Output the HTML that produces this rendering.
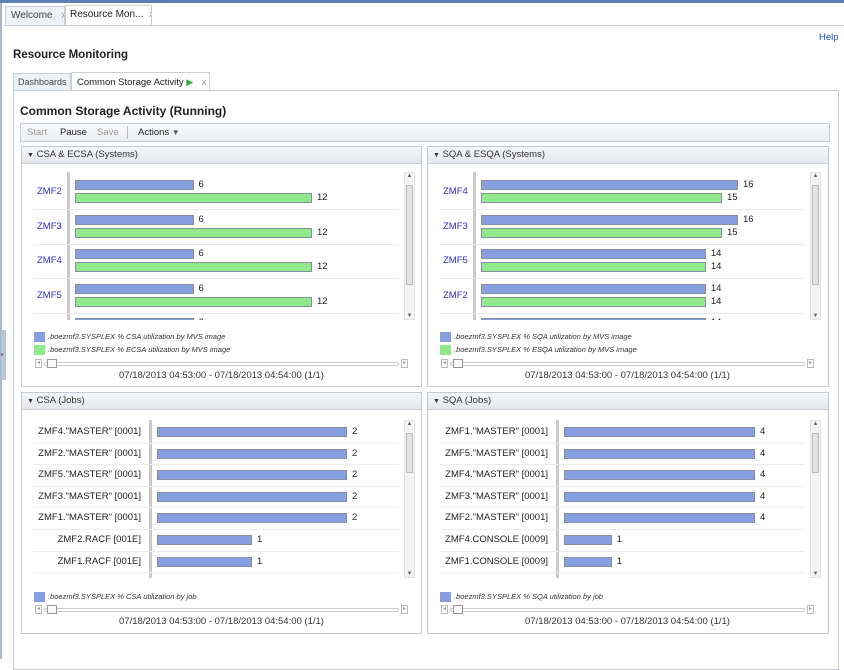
<!DOCTYPE html>
<html><head><meta charset="utf-8"><style>
*{box-sizing:border-box;margin:0;padding:0}
body{width:844px;height:659px;position:relative;overflow:hidden;background:#fff;font-family:"Liberation Sans",sans-serif;color:#222}
.a{position:absolute}
.tab{position:absolute;height:20px;border:1px solid #c8ced8;border-bottom:none;background:#eef1f5;font-size:10px;line-height:18px;padding-left:5px;color:#444;white-space:nowrap;overflow:hidden}
.panel{position:absolute;border:1px solid #c5cbd4;background:#fff}
.ph{position:absolute;left:0;top:0;right:0;height:17px;background:linear-gradient(#f6f7f9,#e4e7ec);border-bottom:1px solid #ccd1d9;font-size:9.5px;line-height:16px;padding-left:5px;color:#333}
.clip{position:absolute;overflow:hidden}
.sb{position:absolute;width:11px;background:#f2f3f5;border:1px solid #e0e2e6}
.leg{position:absolute;font-size:7.5px;font-style:italic;color:#333;line-height:10px;white-space:nowrap}
.sw{display:inline-block;width:11px;height:10px;vertical-align:middle;margin-right:3px}
.slider{position:absolute;height:9px}
.date{position:absolute;font-size:9.5px;color:#333;text-align:center}
</style></head><body>
<div class="a" style="left:0;top:0;width:844px;height:3px;background:#5a7fb3"></div>
<div class="a" style="left:0;top:3px;width:2px;height:656px;background:#a9b6c8"></div>
<div class="a" style="left:1px;top:330px;width:5px;height:50px;background:#b8c6d8;font-size:6px;color:#667;line-height:50px">▸</div>
<div class="tab" style="left:5px;top:6px;width:60px">Welcome <span style="color:#999;margin-left:6px">x</span></div>
<div class="tab" style="left:65px;top:5px;width:87px;height:21px;background:#fff;color:#222;padding-left:4px">Resource Mon... <span style="color:#999;margin-left:3px">x</span></div>
<div class="a" style="left:4px;top:25px;width:840px;height:1px;background:#c8ced8"></div>
<div class="a" style="left:819px;top:32px;font-size:9.5px;color:#1a4fbf">Help</div>
<div class="a" style="left:13px;top:49px;font-size:11.5px;font-weight:bold">Resource Monitoring</div>
<div class="tab" style="left:13px;top:73px;width:58px;height:18px;line-height:17px;font-size:9px;padding-left:4px">Dashboards</div>
<div class="tab" style="left:71px;top:72px;width:139px;height:19px;background:#fff;font-size:9.5px;color:#222">Common Storage Activity <span style="color:#3a3;font-size:9px">▶</span> <span style="color:#999;margin-left:6px">x</span></div>
<div class="a" style="left:13px;top:90px;width:826px;height:580px;border:1px solid #c8ced8"></div>
<div class="a" style="left:20px;top:104px;font-size:12px;font-weight:bold">Common Storage Activity (Running)</div>
<div class="a" style="left:20px;top:123px;width:810px;height:19px;border:1px solid #c8ced8;background:linear-gradient(#f8f9fa,#eceef1);font-size:9.5px;line-height:17px">
<span style="position:absolute;left:6px;color:#999">Start</span>
<span style="position:absolute;left:39px">Pause</span>
<span style="position:absolute;left:76px;color:#999">Save</span>
<span style="position:absolute;left:106px;top:2px;width:1px;height:13px;background:#bbb"></span>
<span style="position:absolute;left:117px">Actions <span style="color:#557;font-size:8px">▼</span></span>
</div>
<div id="root"></div>
<script>
// CSA & ECSA (Systems)
const csaSystems=['ZMF2','ZMF3','ZMF4','ZMF5','ZMF1'];
const csaValues=[6,6,6,6,6];
const ecsaValues=[12,12,12,12,12];
// SQA & ESQA (Systems)
const sqaSystems=['ZMF4','ZMF3','ZMF5','ZMF2','ZMF1'];
const sqaValues=[16,16,14,14,14];
const esqaValues=[15,15,14,14,14];
// CSA (Jobs)
const csaJobs=['ZMF4."MASTER" [0001]','ZMF2."MASTER" [0001]','ZMF5."MASTER" [0001]','ZMF3."MASTER" [0001]','ZMF1."MASTER" [0001]','ZMF2.RACF [001E]','ZMF1.RACF [001E]','ZMF3.RACF [001E]'];
const csaJobValues=[2,2,2,2,2,1,1,1];
// SQA (Jobs)
const sqaJobs=['ZMF1."MASTER" [0001]','ZMF5."MASTER" [0001]','ZMF4."MASTER" [0001]','ZMF3."MASTER" [0001]','ZMF2."MASTER" [0001]','ZMF4.CONSOLE [0009]','ZMF1.CONSOLE [0009]','ZMF2.CONSOLE [0009]'];
const sqaJobValues=[4,4,4,4,4,1,1,1];

const BLUE='#859fe0',GREEN='#90ea8c';
const root=document.getElementById('root');
function mk(parent,cls,style,name,inter){const d=document.createElement('div');if(cls)d.className=cls;d.style.cssText=style;


parent.appendChild(d);return d;}

function panel(x,y,w,h,title,name){
 const p=mk(root,'panel',`left:${x}px;top:${y}px;width:${w}px;height:${h}px`,name,false);
 const hd=mk(p,'ph','',name+'-header',true);hd.innerHTML='<span style="font-size:7px">▼</span> '+title;
 return p;}

function footer(x,y,legends,sliderY,dateY){
 legends.forEach((l,i)=>{const d=mk(root,'leg',`left:${x+13}px;top:${y+i*13}px`,'legend-entry',false);
  d.innerHTML=`<span class="sw" style="background:${l[0]}"></span>${l[1]}`;});
 const s=mk(root,'slider',`left:${x+14}px;top:${sliderY}px;width:373px`,'time-slider',true);
 s.innerHTML=`<div style="position:absolute;left:0;top:0;width:7px;height:9px;border:1px solid #bbb;font-size:6px;color:#999;line-height:7px;text-align:center">◂</div>
 <div style="position:absolute;left:9px;top:3px;width:355px;height:4px;border:1px solid #ccc;border-radius:2px"></div>
 <div style="position:absolute;left:12px;top:0;width:10px;height:9px;border:1px solid #999;background:#fafafa"></div>
 <div style="position:absolute;left:366px;top:0;width:7px;height:9px;border:1px solid #bbb;font-size:6px;color:#999;line-height:7px;text-align:center">▸</div>`;
 const d=mk(root,'date',`left:${x}px;top:${dateY}px;width:401px`,'time-range-label',false);
 d.textContent='07/18/2013 04:53:00 - 07/18/2013 04:54:00 (1/1)';}

function sysChart(px,cats,s1,s2,maxV,maxW){
 const top=172,bottom=320,clipL=px+9,clipR=px+381;
 const c=mk(root,'clip',`left:${clipL}px;top:${top}px;width:${clipR-clipL}px;height:${bottom-top}px`,'bar-chart',false);
 const axisX=px+46-clipL,x0=px+54-clipL,sc=v=>v/maxV*maxW,rowH=34.5,r0=3;
 mk(c,'',`position:absolute;left:${axisX}px;top:0;width:3px;height:148px;background:#c9c9c9`,'y-axis',false);
 cats.forEach((cat,i)=>{const rt=r0+rowH*i;
  const l=mk(c,'',`position:absolute;left:${px+16-clipL}px;top:${rt+11}px;font-size:9.5px;color:#2a2ad0`,'category-label',true);l.textContent=cat;
  [[s1,BLUE,5],[s2,GREEN,18]].forEach(([arr,col,off])=>{const w=sc(arr[i]);
   mk(c,'',`position:absolute;left:${x0}px;top:${rt+off}px;width:${w}px;height:10px;background:${col};border:1px solid #8a8fa0`,'bar',true);
   const t=mk(c,'',`position:absolute;left:${x0+w+5}px;top:${rt+off-1}px;font-size:9.5px`,'value-label',false);t.textContent=arr[i];});
  mk(c,'',`position:absolute;left:3px;top:${rt+34}px;width:${clipR-clipL-6}px;height:1px;background:#e8e8e8`,'row-separator',false);});
 const sb=mk(root,'sb',`left:${px+383}px;top:${top}px;height:${bottom-top}px`,'scrollbar',true);
 sb.innerHTML='<div style="position:absolute;left:1px;top:12px;width:7px;height:100px;background:#e2e2e2;border:1px solid #bbb"></div><div style="position:absolute;top:0;width:9px;text-align:center;font-size:6px;color:#666">▲</div><div style="position:absolute;bottom:0;width:9px;text-align:center;font-size:6px;color:#666">▼</div>';}

function jobChart(px,cats,vals,maxV,maxW,labelRight,axisAt){
 const top=420,bottom=578,clipL=px+9,clipR=px+381;
 const c=mk(root,'clip',`left:${clipL}px;top:${top}px;width:${clipR-clipL}px;height:${bottom-top}px`,'bar-chart',false);
 const x0=axisAt+5-clipL,sc=v=>v/maxV*maxW,rowH=21.6,c0=12;
 mk(c,'',`position:absolute;left:${axisAt-3-clipL}px;top:0;width:3px;height:158px;background:#c9c9c9`,'y-axis',false);
 cats.forEach((cat,i)=>{const cy=c0+rowH*i;
  const l=mk(c,'',`position:absolute;right:${clipR-labelRight}px;top:${cy-6}px;font-size:9.5px;color:#222;white-space:nowrap`,'category-label',false);l.textContent=cat;
  const w=sc(vals[i]);
  mk(c,'',`position:absolute;left:${x0}px;top:${cy-5}px;width:${w}px;height:10px;background:${BLUE};border:1px solid #8a8fa0`,'bar',true);
  const t=mk(c,'',`position:absolute;left:${x0+w+5}px;top:${cy-6}px;font-size:9.5px`,'value-label',false);t.textContent=vals[i];
  mk(c,'',`position:absolute;left:3px;top:${cy+10.5}px;width:${clipR-clipL-6}px;height:1px;background:#ececec`,'row-separator',false);});
 const sb=mk(root,'sb',`left:${px+383}px;top:${top}px;height:${bottom-top}px`,'scrollbar',true);
 sb.innerHTML='<div style="position:absolute;left:1px;top:12px;width:7px;height:40px;background:#e2e2e2;border:1px solid #bbb"></div><div style="position:absolute;top:0;width:9px;text-align:center;font-size:6px;color:#666">▲</div><div style="position:absolute;bottom:0;width:9px;text-align:center;font-size:6px;color:#666">▼</div>';}

panel(21,146,401,241,'CSA &amp; ECSA (Systems)','csa-ecsa-panel');
panel(427,146,402,241,'SQA &amp; ESQA (Systems)','sqa-esqa-panel');
panel(21,392,401,242,'CSA (Jobs)','csa-jobs-panel');
panel(427,392,402,242,'SQA (Jobs)','sqa-jobs-panel');

sysChart(21,csaSystems,csaValues,ecsaValues,12,237);
sysChart(427,sqaSystems,sqaValues,esqaValues,16,257);
jobChart(21,csaJobs,csaJobValues,2,190,141,152);
jobChart(427,sqaJobs,sqaJobValues,4,191,548,559);

footer(21,332,[[BLUE,'.boezmf3.SYSPLEX % <i>CSA utilization by MVS image</i>'],[GREEN,'.boezmf3.SYSPLEX % <i>ECSA utilization by MVS image</i>']],359,370);
footer(427,332,[[BLUE,'.boezmf3.SYSPLEX % <i>SQA utilization by MVS image</i>'],[GREEN,'.boezmf3.SYSPLEX % <i>ESQA utilization by MVS image</i>']],359,370);
footer(21,592,[[BLUE,'.boezmf3.SYSPLEX % <i>CSA utilization by job</i>']],605,616);
footer(427,592,[[BLUE,'.boezmf3.SYSPLEX % <i>SQA utilization by job</i>']],605,616);
</script>
</body></html>
